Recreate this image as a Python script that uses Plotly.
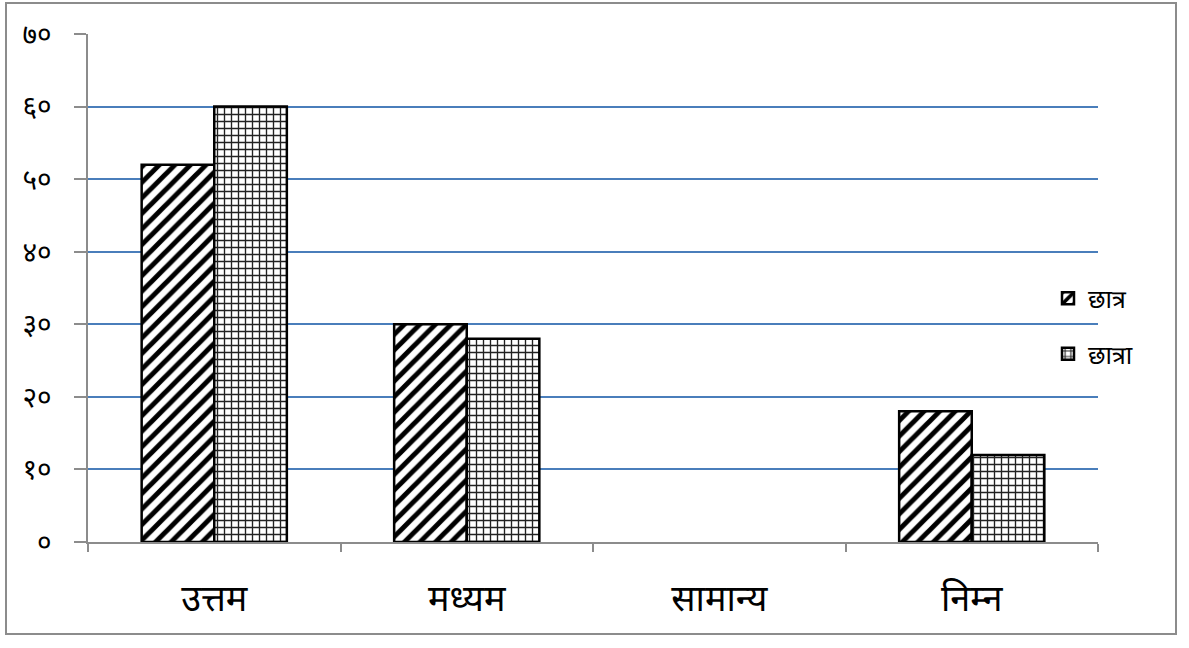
import plotly.graph_objects as go

categories = ["उत्तम", "मध्यम", "सामान्य", "निम्न"]
series_names = ["छात्र", "छात्रा"]
chhatra = [52, 30, 0, 18]
chhatraa = [60, 28, 0, 12]
y_tickvals = [0, 10, 20, 30, 40, 50, 60, 70]
y_ticktext = ["०", "१०", "२०", "३०", "४०", "५०", "६०", "७०"]

FONT = "Noto Sans Devanagari, Lohit Devanagari, Noto Sans, DejaVu Sans, sans-serif"


def outline(vals):
    return [2.5 if v > 0 else 0 for v in vals]


fig = go.Figure()
fig.add_trace(go.Bar(
    x=categories, y=chhatra, name=series_names[0], legendgroup="a",
    marker=dict(color="white", line=dict(color="black", width=outline(chhatra)),
                pattern=dict(shape="/", fgcolor="black", bgcolor="white",
                             size=11, solidity=0.45, fillmode="replace")),
))
fig.add_trace(go.Bar(
    x=categories, y=chhatraa, name=series_names[1], legendgroup="b",
    marker=dict(color="white", line=dict(color="black", width=outline(chhatraa)),
                pattern=dict(shape="+", fgcolor="#222222", bgcolor="white",
                             size=7, solidity=0.35, fillmode="replace")),
))

L, R, T, B = 88, 1098, 34, 542
W, H = 1189, 648
pw, ph = R - L, B - T


def px(x):
    return (x - L) / pw


def py(y):
    return (B - y) / ph


fig.update_layout(
    width=W, height=H,
    margin=dict(l=L, r=W - R, t=T, b=H - B, autoexpand=False),
    paper_bgcolor="white", plot_bgcolor="white",
    barmode="group", bargap=0.425, bargroupgap=0,
    font=dict(family=FONT, color="black"),
    showlegend=True,
    legend=dict(x=px(1048), y=py(326), xanchor="left", yanchor="middle",
                font=dict(size=25, family=FONT), traceorder="grouped",
                tracegroupgap=20, itemwidth=30, bgcolor="rgba(0,0,0,0)"),
    xaxis=dict(
        showgrid=False, showline=True, linecolor="#8c8c8c", linewidth=1.5,
        ticks="outside", tickson="boundaries", ticklen=8, tickcolor="#8c8c8c",
        tickwidth=1.5, tickfont=dict(size=36, family=FONT),
        ticklabelstandoff=24, fixedrange=True,
    ),
    yaxis=dict(
        range=[0, 70], tickvals=y_tickvals, ticktext=y_ticktext,
        showgrid=True, gridcolor="#4a7ebb", gridwidth=1.5,
        zeroline=False, showline=True, linecolor="#8c8c8c", linewidth=1.5,
        ticks="outside", ticklen=12, tickcolor="#8c8c8c", tickwidth=1.5,
        tickfont=dict(size=28, family=FONT), ticklabelstandoff=17,
        fixedrange=True,
    ),
    shapes=[dict(type="rect", xref="paper", yref="paper",
                 x0=px(6), x1=px(1176), y0=py(634), y1=py(3),
                 line=dict(color="#8c8c8c", width=2), layer="below")],
)

fig.write_html("out.html",
               config={"displayModeBar": False},
               post_script="document.body.style.margin='0';document.body.style.overflow='hidden';")
